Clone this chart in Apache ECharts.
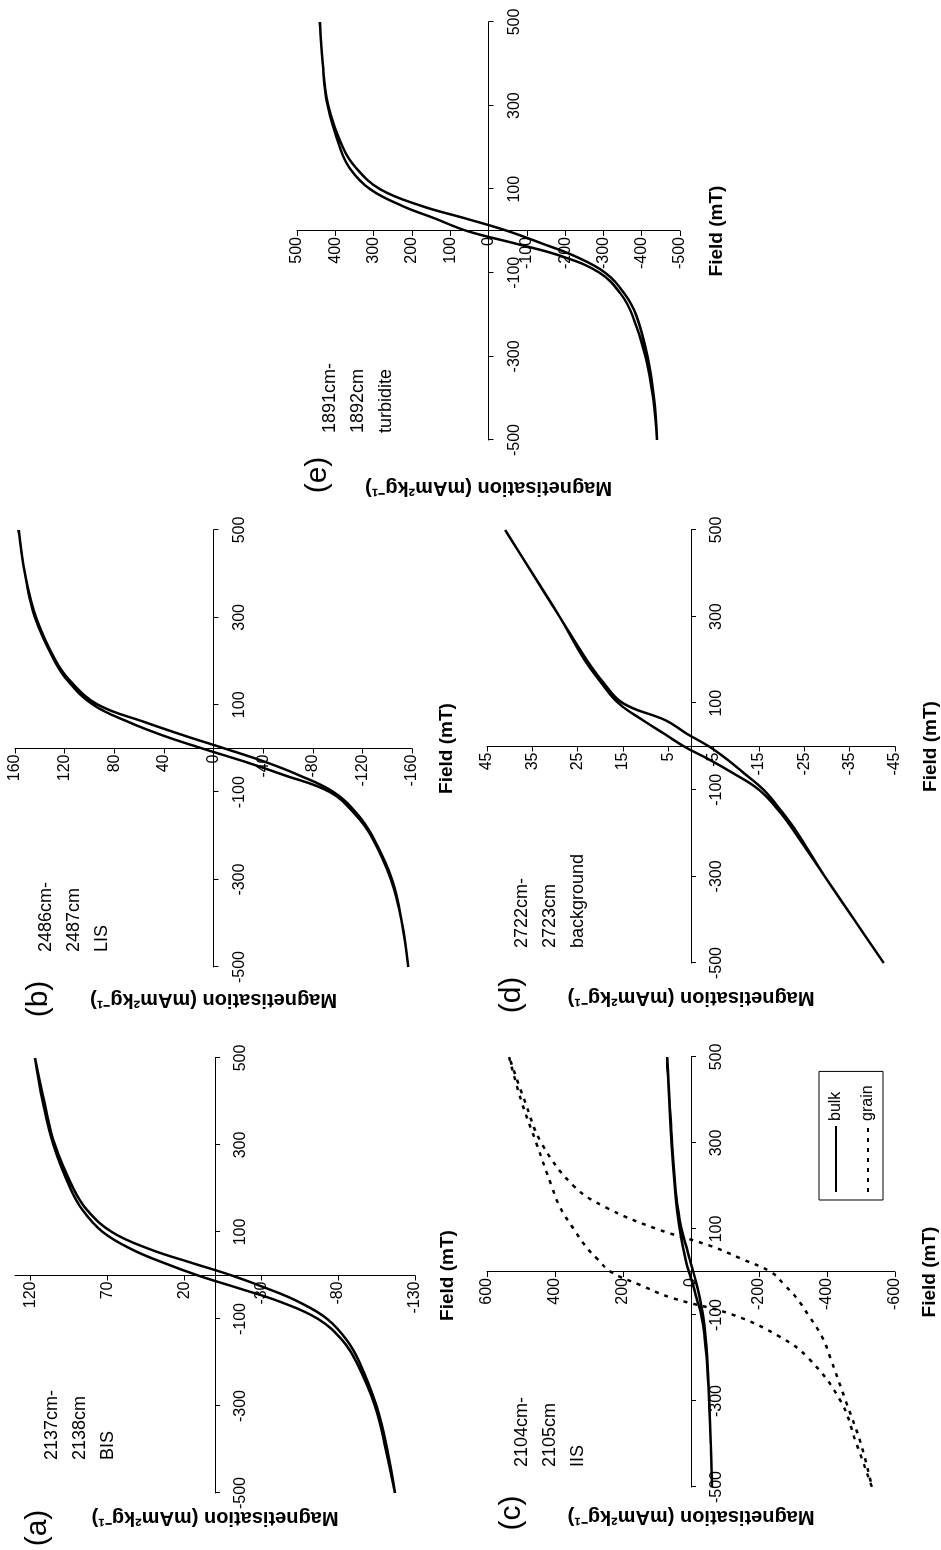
<!DOCTYPE html>
<html><head><meta charset="utf-8">
<script src="https://cdn.jsdelivr.net/npm/echarts@6/dist/echarts.min.js"></script>
<style>
html,body{margin:0;padding:0;background:#fff;width:941px;height:1550px;overflow:hidden;}
#chart{position:absolute;left:0;top:0;width:1550px;height:941px;transform-origin:0 0;transform:translate(0px,1550px) rotate(-90deg);background:#fff;}
</style></head><body><div id="chart"></div>
<script>
// Field grid (mT) shared by all loops
const field = [-500,-400,-300,-200,-150,-100,-60,-30,0,30,60,100,150,200,300,400,500];
const fieldTicks = [-500,-300,-100,100,300,500];

// (a) 2137cm-2138cm BIS
const aDesc = [-117,-111,-104,-92,-83,-67,-42,-16,11,34,54,73,86,94,105,112,117];
const aAsc  = [-117,-112,-105,-94,-86,-73,-54,-34,-11,16,42,67,83,92,104,111,117];
const aTicks = [-130,-80,-30,20,70,120];

// (b) 2486cm-2487cm LIS
const bDesc = [-157,-152,-143,-127,-114,-94,-56,-25,9,41,68,97,116,128,144,152,157];
const bAsc  = [-157,-152,-144,-128,-116,-97,-68,-41,-9,24,55,93,114,127,143,152,157];
const bTicks = [-160,-120,-80,-40,0,40,80,120,160];

// (c) 2104cm-2105cm IIS
const cBulkDesc  = [-62,-58,-53,-46,-40,-30,-16,-6,6,16,24,33,42,48,57,64,70];
const cBulkAsc   = [-62,-58,-54,-48,-43,-35,-26,-17,-7,4,14,28,39,46,56,63,70];
const cGrainDesc = [-532,-487,-440,-345,-260,-125,57,150,235,275,310,345,385,410,455,500,535];
const cGrainAsc  = [-532,-500,-455,-410,-385,-345,-310,-275,-235,-150,-60,100,250,345,440,490,535];
const cTicks = [-600,-400,-200,0,200,400,600];

// (d) 2722cm-2723cm background
const dDesc = [-42.5,-36,-29.5,-23,-19.5,-15,-9,-4,1.5,6,10.5,16,20,23.5,29,35,41];
const dAsc  = [-42.5,-36,-29.5,-23.5,-20,-16,-11.5,-8,-4,1,5.5,15,19.5,23,29,35,41];
const dTicks = [-45,-35,-25,-15,-5,5,15,25,35,45];

// (e) 1891cm-1892cm turbidite
const eDesc = [-440,-430,-410,-375,-345,-290,-190,-70,56,140,225,309,362,388,420,433,440];
const eAsc  = [-440,-432,-415,-385,-355,-305,-225,-140,-50,60,175,283,345,380,418,433,440];
const eTicks = [-500,-400,-300,-200,-100,0,100,200,300,400,500];

const panelLabels = ['(a)','(b)','(c)','(d)','(e)'];
const sampleTexts = ['2137cm-\n2138cm\nBIS','2486cm-\n2487cm\nLIS','2104cm-\n2105cm\nIIS','2722cm-\n2723cm\nbackground','1891cm-\n1892cm\nturbidite'];
const fieldTitle = 'Field (mT)';
const magTitle = 'Magnetisation (mAm\u00B2kg\u207B\u00B9)';

const FONT = "'Liberation Sans', Arial, Helvetica, sans-serif";

function loop(desc, asc){
  const pts = [];
  for (let i = field.length-1; i >= 0; i--) pts.push([field[i], desc[i]]);
  for (let i = 1; i < field.length; i++) pts.push([field[i], asc[i]]);
  return pts;
}

// layout (unrotated frame, 1550 x 941)
const grids = [
  {left:57,  top:15,  width:435, height:400},
  {left:583, top:15,  width:437, height:397},
  {left:63,  top:487, width:430, height:408},
  {left:587, top:487, width:433, height:408},
  {left:1110,top:297, width:418, height:383}
].map(g => Object.assign({containLabel:false, outerBoundsMode:'none'}, g));
const magTicks = [aTicks,bTicks,cTicks,dTicks,eTicks];
const xGap = [223,224,229,230,219];
const yGap = [232,241,235,241,247];
const labelPos = [[22,38],[551,39],[37,512],[555,512],[1075,318]];
const textPos = [[90,80],[598,74],[83,550],[602,550],[1117,358]];

const xAxis = grids.map((g,i)=>({
  type:'value', gridIndex:i, min:-500, max:500, position:'bottom',
  offset: -g.height/2,
  name:fieldTitle, nameLocation:'middle', nameGap:xGap[i], nameMoveOverlap:false,
  nameTextStyle:{color:'#000', fontWeight:'bold', fontSize:19, fontFamily:FONT},
  axisLine:{onZero:false, lineStyle:{color:'#000', width:1}},
  axisTick:{show:true, length:5, customValues:fieldTicks, lineStyle:{color:'#000', width:1}},
  axisLabel:{customValues:fieldTicks, margin:18, color:'#000', fontSize:16, fontFamily:FONT},
  splitLine:{show:false}
}));
const yAxis = grids.map((g,i)=>{
  const t = magTicks[i];
  return {
    type:'value', gridIndex:i, min:t[0], max:-t[0], position:'left',
    offset: -g.width/2,
    name:magTitle, nameLocation:'middle', nameGap:yGap[i], nameMoveOverlap:false,
    nameTextStyle:{color:'#000', fontWeight:'bold', fontSize:20, fontFamily:FONT},
    axisLine:{onZero:false, lineStyle:{color:'#000', width:1}},
    axisTick:{show:true, length:5, customValues:t, lineStyle:{color:'#000', width:1}},
    axisLabel:{customValues:t, margin:6, color:'#000', fontSize:16, fontFamily:FONT},
    splitLine:{show:false}
  };
});
yAxis[0].min = -130; yAxis[0].max = 130;

function lineSeries(name, idx, data, dashed){
  return {
    name, type:'line', xAxisIndex:idx, yAxisIndex:idx, data,
    symbol:'none', showSymbol:false, smooth:0.4, animation:false,
    lineStyle:{color:'#000', width:2.5, type: dashed ? [4,6] : 'solid'},
    itemStyle:{color:'#000'}
  };
}
const series = [
  lineSeries('a', 0, loop(aDesc, aAsc)),
  lineSeries('b', 1, loop(bDesc, bAsc)),
  lineSeries('bulk', 2, loop(cBulkDesc, cBulkAsc)),
  lineSeries('grain', 2, loop(cGrainDesc, cGrainAsc), true),
  lineSeries('d', 3, loop(dDesc, dAsc)),
  lineSeries('e', 4, loop(eDesc, eAsc))
];

const graphic = [];
panelLabels.forEach((t,i)=>{
  graphic.push({type:'text', x:labelPos[i][0], y:labelPos[i][1], silent:true,
    style:{text:t, fill:'#000', fontSize:30, fontFamily:FONT, align:'center', verticalAlign:'middle', textAlign:'center', textVerticalAlign:'middle'}});
});
sampleTexts.forEach((t,i)=>{
  graphic.push({type:'text', x:textPos[i][0], y:textPos[i][1], silent:true,
    style:{text:t, fill:'#000', fontSize:18, lineHeight:28, fontFamily:FONT, align:'left', verticalAlign:'middle', textAlign:'left', textVerticalAlign:'middle'}});
});

const chart = echarts.init(document.getElementById('chart'), null, {renderer:'canvas'});
chart.setOption({
  animation:false,
  backgroundColor:'#fff',
  grid: grids,
  xAxis, yAxis, series, graphic,
  legend:{
    data:['bulk','grain'], orient:'vertical', left:350, top:819,
    selectedMode:false, borderColor:'#000', borderWidth:1, borderRadius:0,
    padding:[9,14,7,7], itemWidth:66, itemHeight:14, itemGap:16,
    itemStyle:{color:'rgba(0,0,0,0)', borderWidth:0, opacity:0},
    textStyle:{color:'#000', fontSize:16, fontFamily:FONT}
  }
});
</script></body></html>
